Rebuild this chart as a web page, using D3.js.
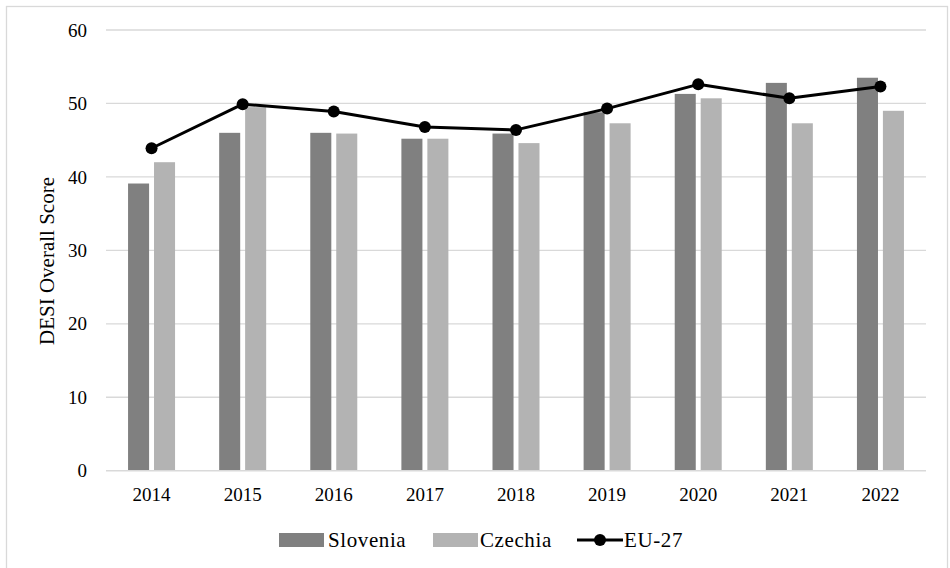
<!DOCTYPE html>
<html>
<head>
<meta charset="utf-8">
<script src="https://cdn.jsdelivr.net/npm/d3@7"></script>
<style>
  body { margin: 0; background: #fff; }
</style>
</head>
<body>
<div id="chart"></div>
<script>
var years = ["2014", "2015", "2016", "2017", "2018", "2019", "2020", "2021", "2022"];
var slovenia = [39.1, 46.0, 46.0, 45.2, 45.9, 48.8, 51.3, 52.8, 53.5];
var czechia = [42.0, 49.5, 45.9, 45.2, 44.6, 47.3, 50.7, 47.3, 49.0];
var eu27 = [43.9, 49.9, 48.9, 46.8, 46.4, 49.3, 52.6, 50.7, 52.3];
var yTicks = [0, 10, 20, 30, 40, 50, 60];
var seriesNames = ["Slovenia", "Czechia", "EU-27"];

var serif = "'Times New Roman', 'Liberation Serif', 'DejaVu Serif', serif";

function init() {

	var w = 950;
	var h = 568;

	var svg = d3.select("#chart")
				.append("svg")
				.attr("width", w)
				.attr("height", h)
				.attr("font-family", serif)
				.style("font-family", serif);

	// outer frame
	svg.append("rect")
	   .attr("x", 6.5)
	   .attr("y", 6.5)
	   .attr("width", 941)
	   .attr("height", 575)
	   .attr("fill", "none")
	   .attr("stroke", "#d9d9d9")
	   .attr("stroke-width", 1.3);

	var x0 = d3.scaleBand()
			   .domain(years)
			   .range([106, 926])
			   .paddingInner(0)
			   .paddingOuter(0);

	var x1 = d3.scaleBand()
			   .domain(["Slovenia", "Czechia"])
			   .range([x0.bandwidth() / 2 - 23.5, x0.bandwidth() / 2 + 23.5])
			   .paddingInner(0.19);

	var y = d3.scaleLinear()
			  .domain([0, 60])
			  .range([470.7, 30]);

	// gridlines
	svg.selectAll("line.grid")
	   .data(yTicks.slice(1))
	   .enter()
	   .append("line")
	   .attr("class", "grid")
	   .attr("x1", 106)
	   .attr("x2", 926)
	   .attr("y1", function(d) { return y(d); })
	   .attr("y2", function(d) { return y(d); })
	   .attr("stroke", "#d9d9d9")
	   .attr("stroke-width", 1.3);

	// y tick labels
	svg.selectAll("text.ytick")
	   .data(yTicks)
	   .enter()
	   .append("text")
	   .attr("class", "ytick")
	   .attr("x", 87)
	   .attr("y", function(d) { return y(d); })
	   .attr("dy", "0.35em")
	   .attr("text-anchor", "end")
	   .style("font-size", "19px")
	   .text(function(d) { return d; });

	var rows = years.map(function(yr, i) {
		return {year: yr, Slovenia: slovenia[i], Czechia: czechia[i], eu: eu27[i]};
	});

	var fills = {Slovenia: "#808080", Czechia: "#b3b3b3"};

	var groups = svg.selectAll("g.year")
					.data(rows)
					.enter()
					.append("g")
					.attr("class", "year")
					.attr("transform", function(d) { return "translate(" + x0(d.year) + ",0)"; });

	groups.selectAll("rect")
		  .data(function(d) {
			  return ["Slovenia", "Czechia"].map(function(k) { return {key: k, value: d[k]}; });
		  })
		  .enter()
		  .append("rect")
		  .attr("x", function(d) { return x1(d.key); })
		  .attr("width", x1.bandwidth())
		  .attr("y", function(d) { return y(d.value); })
		  .attr("height", function(d) { return y(0) - y(d.value); })
		  .style("fill", function(d) { return fills[d.key]; });

	// baseline
	svg.append("line")
	   .attr("x1", 106)
	   .attr("x2", 926)
	   .attr("y1", y(0))
	   .attr("y2", y(0))
	   .attr("stroke", "#d9d9d9")
	   .attr("stroke-width", 1.6);

	// x labels
	svg.selectAll("text.xtick")
	   .data(years)
	   .enter()
	   .append("text")
	   .attr("class", "xtick")
	   .attr("x", function(d) { return x0(d) + x0.bandwidth() / 2; })
	   .attr("y", 501)
	   .attr("text-anchor", "middle")
	   .style("font-size", "19px")
	   .text(function(d) { return d; });

	// EU-27 line
	var line = d3.line()
				 .x(function(d) { return x0(d.year) + x0.bandwidth() / 2; })
				 .y(function(d) { return y(d.eu); });

	svg.append("path")
	   .datum(rows)
	   .attr("d", line)
	   .attr("fill", "none")
	   .attr("stroke", "#000")
	   .attr("stroke-width", 3)
	   .attr("stroke-linejoin", "round");

	svg.selectAll("circle.eu")
	   .data(rows)
	   .enter()
	   .append("circle")
	   .attr("class", "eu")
	   .attr("cx", function(d) { return x0(d.year) + x0.bandwidth() / 2; })
	   .attr("cy", function(d) { return y(d.eu); })
	   .attr("r", 6)
	   .style("fill", "#000");

	// y axis title
	svg.append("text")
	   .attr("transform", "translate(54,261) rotate(-90)")
	   .attr("text-anchor", "middle")
	   .style("font-size", "21px")
	   .text("DESI Overall Score");

	// legend
	var legend = svg.append("g")
					.style("font-size", "21px")
					.style("letter-spacing", "0.6px");

	legend.append("rect")
		  .attr("x", 279).attr("y", 533)
		  .attr("width", 45).attr("height", 14)
		  .style("fill", fills.Slovenia);
	legend.append("text")
		  .attr("x", 328).attr("y", 547)
		  .text(seriesNames[0]);

	legend.append("rect")
		  .attr("x", 433).attr("y", 533)
		  .attr("width", 45).attr("height", 14)
		  .style("fill", fills.Czechia);
	legend.append("text")
		  .attr("x", 480).attr("y", 547)
		  .text(seriesNames[1]);

	legend.append("line")
		  .attr("x1", 577).attr("x2", 623)
		  .attr("y1", 540).attr("y2", 540)
		  .attr("stroke", "#000")
		  .attr("stroke-width", 3);
	legend.append("circle")
		  .attr("cx", 600).attr("cy", 540)
		  .attr("r", 6)
		  .style("fill", "#000");
	legend.append("text")
		  .attr("x", 624).attr("y", 547)
		  .text(seriesNames[2]);
}

window.onload = init;
</script>
</body>
</html>
